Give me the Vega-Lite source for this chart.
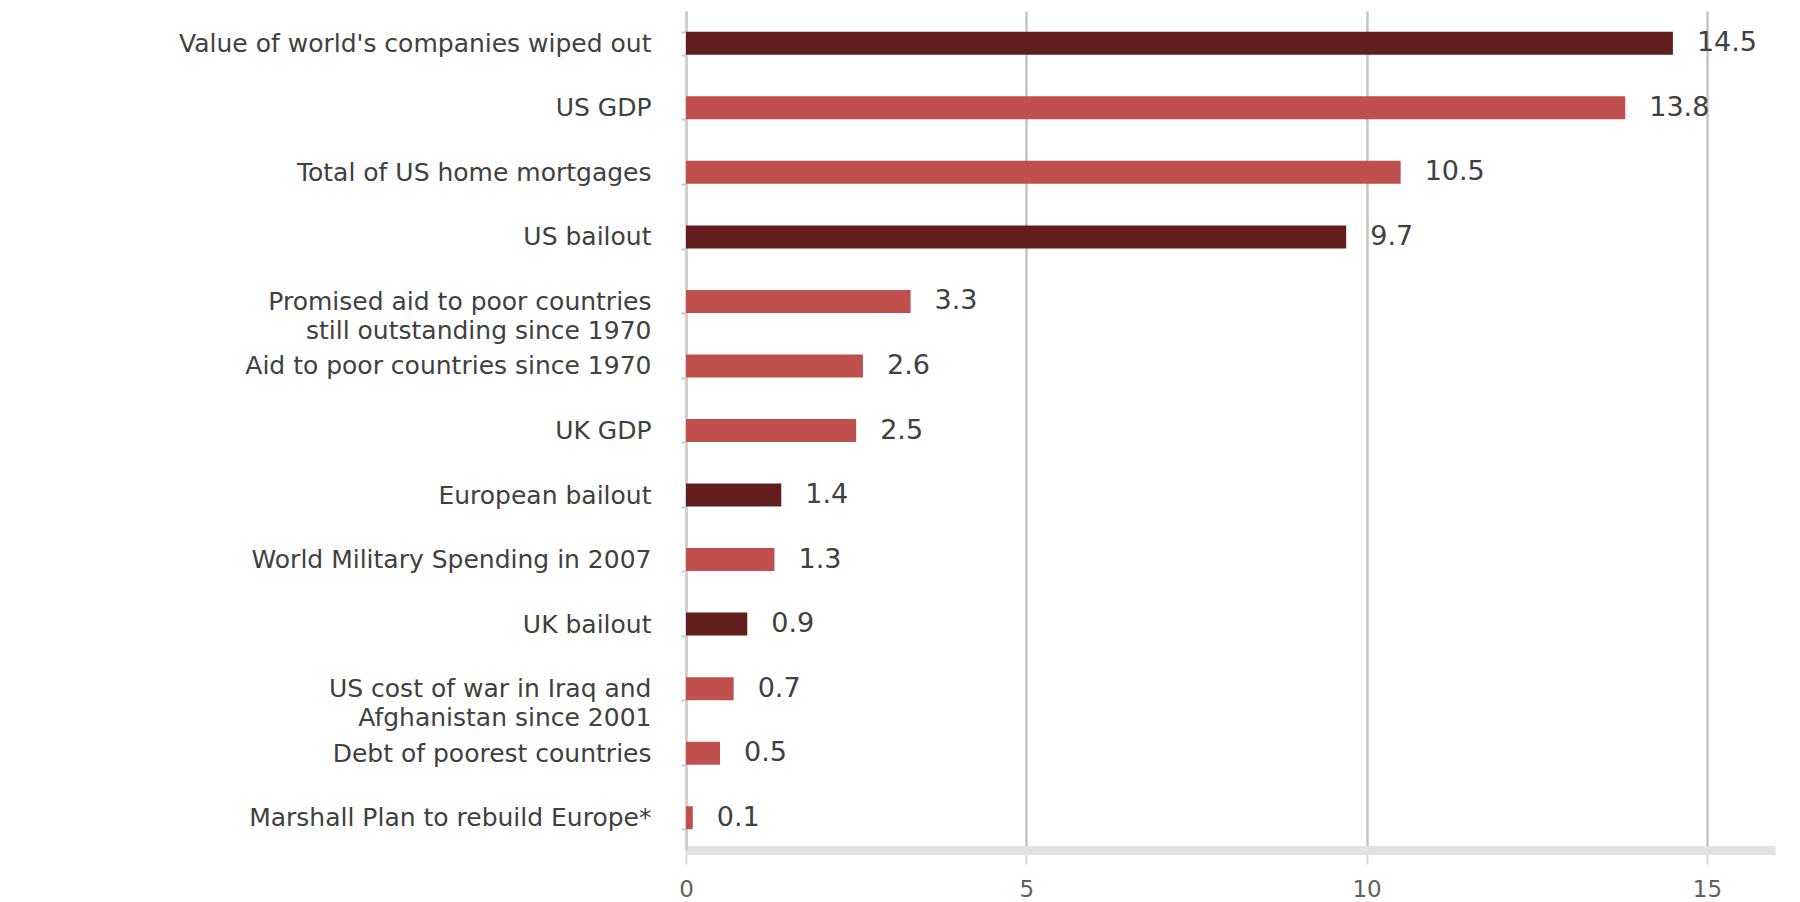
{
  "$schema": "https://vega.github.io/schema/vega-lite/v6.json",
  "autosize": "none",
  "padding": {"left": 686, "top": 11, "right": 25, "bottom": 52},
  "width": 1089,
  "height": 839,
  "background": "white",
  "config": {"view": {"stroke": null}, "font": "DejaVu Sans"},
  "data": {"values": [
    {"item": "Value of world's companies wiped out", "value": 14.5, "kind": "dark"},
    {"item": "US GDP", "value": 13.8, "kind": "light"},
    {"item": "Total of US home mortgages", "value": 10.5, "kind": "light"},
    {"item": "US bailout", "value": 9.7, "kind": "dark"},
    {"item": "Promised aid to poor countries|still outstanding since 1970", "value": 3.3, "kind": "light"},
    {"item": "Aid to poor countries since 1970", "value": 2.6, "kind": "light"},
    {"item": "UK GDP", "value": 2.5, "kind": "light"},
    {"item": "European bailout", "value": 1.4, "kind": "dark"},
    {"item": "World Military Spending in 2007", "value": 1.3, "kind": "light"},
    {"item": "UK bailout", "value": 0.9, "kind": "dark"},
    {"item": "US cost of war in Iraq and|Afghanistan since 2001", "value": 0.7, "kind": "light"},
    {"item": "Debt of poorest countries", "value": 0.5, "kind": "light"},
    {"item": "Marshall Plan to rebuild Europe*", "value": 0.1, "kind": "light"}
  ]},
  "encoding": {
    "y": {
      "field": "item", "type": "nominal", "sort": null, "title": null,
      "scale": {"paddingInner": 0.64, "paddingOuter": 0.32},
      "axis": {
        "labelExpr": "split(datum.label, '|')",
        "labelFontSize": 25, "labelColor": "#404040", "labelLimit": 900,
        "labelPadding": 30, "labelLineHeight": 29,
        "domainColor": "#d0d0d0", "domainWidth": 3,
        "ticks": true, "tickBand": "extent", "tickSize": 5, "tickColor": "#c8c8c8", "tickWidth": 2
      }
    }
  },
  "layer": [
    {
      "mark": {"type": "bar", "height": 23},
      "encoding": {
        "x": {
          "field": "value", "type": "quantitative", "title": null,
          "scale": {"domain": [0, 16], "nice": false},
          "axis": {
            "values": [0, 5, 10, 15], "format": "d", "labelFlush": false,
            "grid": true, "gridColor": "#c4c4c4", "gridWidth": 2.5,
            "domainColor": "#e2e2e2", "domainWidth": 9,
            "ticks": true, "tickSize": 14, "tickColor": "#d8d8d8", "tickWidth": 2,
            "labelFontSize": 23, "labelColor": "#606060", "labelPadding": 14
          }
        },
        "color": {
          "field": "kind", "type": "nominal", "legend": null,
          "scale": {"domain": ["dark", "light"], "range": ["#621e1e", "#c0504d"]}
        }
      }
    },
    {
      "mark": {"type": "text", "align": "left", "dx": 24, "fontSize": 27, "color": "#404040"},
      "encoding": {
        "x": {"field": "value", "type": "quantitative"},
        "text": {"field": "value", "type": "quantitative", "format": ".1f"}
      }
    }
  ]
}
